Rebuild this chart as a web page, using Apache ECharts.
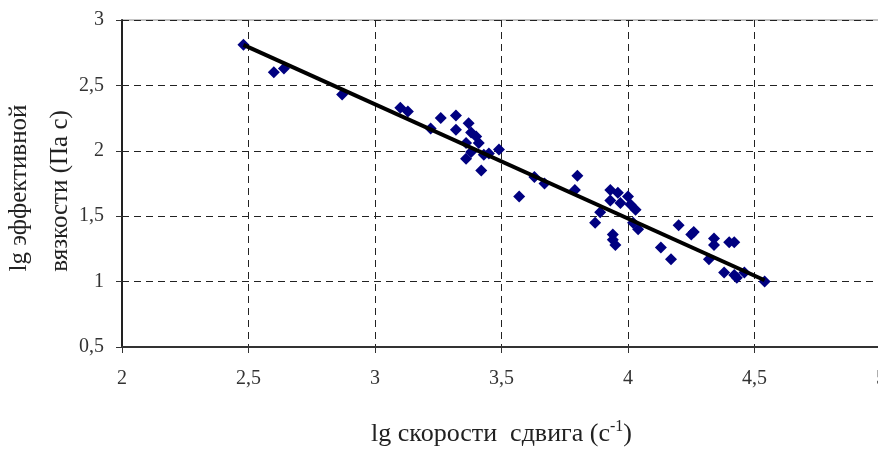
<!DOCTYPE html>
<html>
<head>
<meta charset="utf-8">
<script src="https://cdn.jsdelivr.net/npm/echarts@6/dist/echarts.min.js"></script>
<style>
html,body{margin:0;padding:0;background:#fff;}
#chart{width:878px;height:451px;}
</style>
</head>
<body>
<div id="chart"></div>
<script>
// lg скорости сдвига
var xValues = [2.48, 2.60, 2.64, 2.87, 3.10, 3.13, 3.22, 3.26, 3.32, 3.32, 3.37, 3.38, 3.40, 3.36, 3.41,
    3.38, 3.36, 3.43, 3.42, 3.45, 3.49, 3.63, 3.67, 3.57, 3.80, 3.79, 3.87, 3.89, 3.93, 3.96,
    3.93, 3.97, 4.00, 4.01, 4.03, 4.02, 4.04, 3.94, 3.95, 3.94, 4.13, 4.17, 4.20, 4.26, 4.25,
    4.34, 4.34, 4.32, 4.40, 4.42, 4.38, 4.42, 4.43, 4.46, 4.54];
// lg эффективной вязкости
var yValues = [2.81, 2.60, 2.63, 2.43, 2.33, 2.30, 2.17, 2.25, 2.27, 2.16, 2.21, 2.14, 2.11, 2.06, 2.06,
    1.99, 1.94, 1.97, 1.85, 1.98, 2.01, 1.80, 1.75, 1.65, 1.81, 1.70, 1.45, 1.53, 1.70, 1.68,
    1.62, 1.60, 1.65, 1.59, 1.55, 1.45, 1.40, 1.36, 1.28, 1.32, 1.26, 1.17, 1.43, 1.38, 1.36,
    1.33, 1.28, 1.17, 1.30, 1.30, 1.07, 1.05, 1.03, 1.07, 1.00];
// линия тренда (концы)
var trendX = [2.48, 4.54];
var trendY = [2.81, 1.01];

var points = [];
for (var i = 0; i < xValues.length; i++) {
    points.push([xValues[i], yValues[i]]);
}
var trend = [];
for (var j = 0; j < trendX.length; j++) {
    trend.push([trendX[j], trendY[j]]);
}

var serif = '"Liberation Serif", "DejaVu Serif", serif';
function comma(v) {
    return String(v).replace('.', ',');
}

var myChart = echarts.init(document.getElementById('chart'));
var option = {
    backgroundColor: '#fff',
    animation: false,
    grid: {
        left: 122,
        top: 20,
        width: 759,
        height: 327,
        outerBoundsMode: 'none',
        containLabel: false,
        show: true,
        borderColor: '#888',
        borderWidth: 1
    },
    xAxis: {
        type: 'value',
        min: 2,
        max: 5,
        interval: 0.5,
        name: '{a|lg скорости  сдвига (с}{sup|-1}{a|)}',
        nameLocation: 'middle',
        nameGap: 72,
        nameTextStyle: {
            rich: {
                a: {fontFamily: serif, fontSize: 26, color: '#222'},
                sup: {fontFamily: serif, fontSize: 16, color: '#222', padding: [0, 0, 14, 0]}
            }
        },
        axisLine: {show: true, lineStyle: {color: '#333', width: 2}},
        axisTick: {show: true, length: 6, lineStyle: {color: '#333'}},
        axisLabel: {
            margin: 22,
            fontFamily: serif,
            fontSize: 20,
            color: '#333',
            formatter: comma
        },
        splitLine: {show: true, lineStyle: {color: '#222', type: [7, 5], width: 1}}
    },
    yAxis: {
        type: 'value',
        min: 0.5,
        max: 3,
        interval: 0.5,
        axisLine: {show: true, lineStyle: {color: '#222', width: 2}},
        axisTick: {show: true, length: 6, lineStyle: {color: '#333'}},
        axisLabel: {
            margin: 18,
            fontFamily: serif,
            fontSize: 20,
            color: '#333',
            formatter: comma
        },
        splitLine: {show: true, lineStyle: {color: '#222', type: [7, 5], width: 1}}
    },
    graphic: [
        {
            type: 'text',
            x: 19,
            y: 188,
            rotation: Math.PI / 2,
            style: {
                text: 'lg эффективной',
                font: '25px ' + serif,
                fill: '#222',
                align: 'center',
                verticalAlign: 'middle'
            }
        },
        {
            type: 'text',
            x: 60,
            y: 191,
            rotation: Math.PI / 2,
            style: {
                text: 'вязкости (Па с)',
                font: '25px ' + serif,
                fill: '#222',
                align: 'center',
                verticalAlign: 'middle'
            }
        }
    ],
    series: [
        {
            type: 'scatter',
            symbol: 'diamond',
            symbolSize: 12,
            itemStyle: {color: '#000080', opacity: 1},
            data: points,
            z: 2
        },
        {
            type: 'line',
            showSymbol: false,
            symbol: 'none',
            lineStyle: {color: '#000', width: 4},
            data: trend,
            z: 3
        }
    ]
};
myChart.setOption(option);
</script>
</body>
</html>
